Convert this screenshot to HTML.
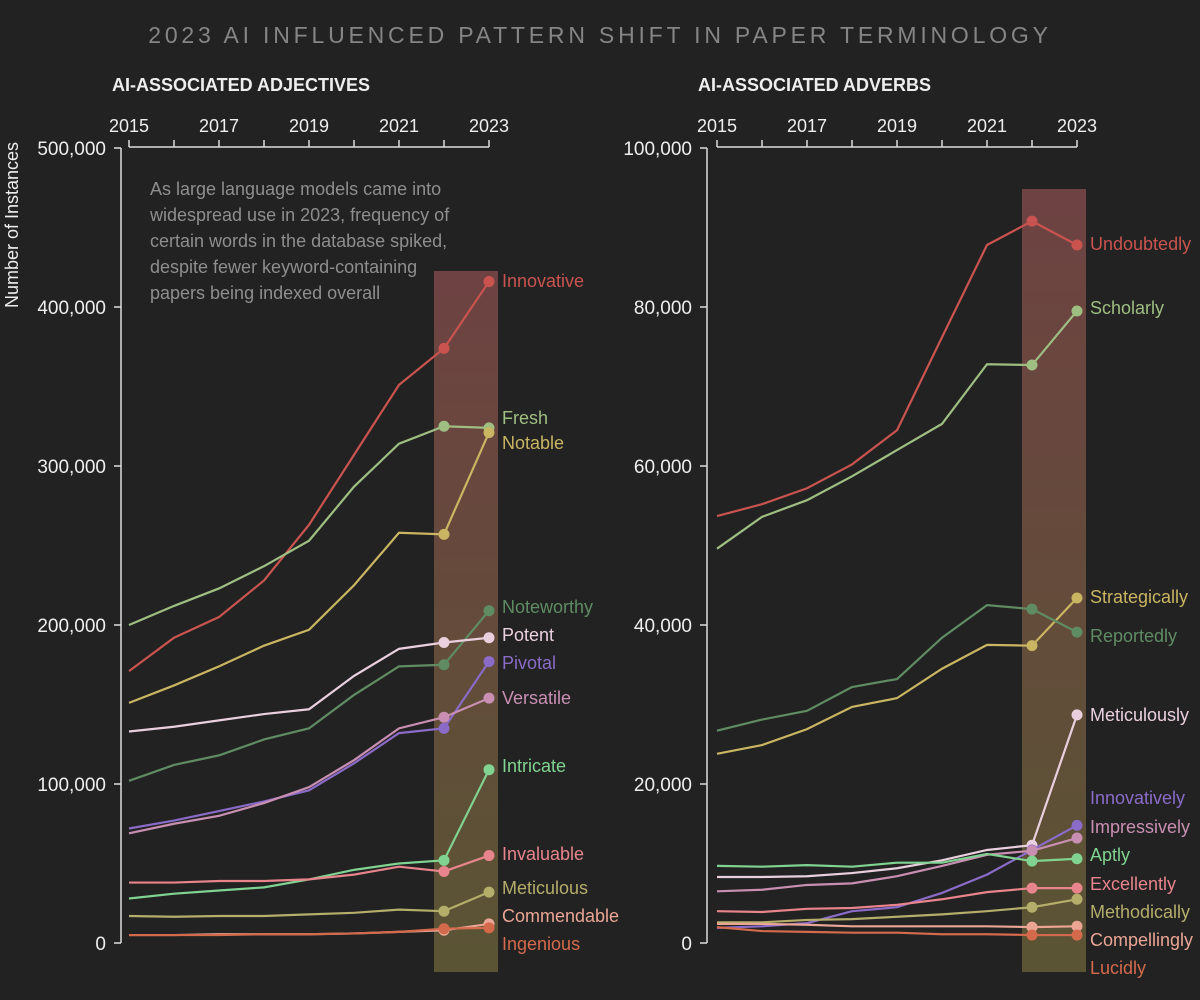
<!DOCTYPE html>
<html><head><meta charset="utf-8">
<style>
html,body{margin:0;padding:0;background:#222;}
svg{display:block;}
text{font-family:"Liberation Sans Narrow","Liberation Sans",sans-serif;}
</style></head>
<body>
<svg id="chart" width="1200" height="1000" viewBox="0 0 1200 1000">
<defs>
<linearGradient id="hl" x1="0" y1="0" x2="0" y2="1">
<stop offset="0" stop-color="#6e4242"/><stop offset="1" stop-color="#5a5434"/>
</linearGradient>
</defs>
<rect width="1200" height="1000" fill="#222"/>
<text x="600" y="43" text-anchor="middle" fill="#858585" font-size="23" letter-spacing="3.8" style="font-family:'Liberation Sans',sans-serif">2023 AI INFLUENCED PATTERN SHIFT IN PAPER TERMINOLOGY</text>
<g id="left"></g>
<g id="right"></g>
</svg>
<script>
const years = [2015,2016,2017,2018,2019,2020,2021,2022,2023];
const adjNames = ["Innovative","Fresh","Notable","Noteworthy","Potent","Pivotal","Versatile","Intricate","Invaluable","Meticulous","Commendable","Ingenious"];
const adjInnovative = [171,192,205,228,263,307,351,374,416];
const adjFresh = [200,212,223,237,253,287,314,325,324];
const adjNotable = [151,162,174,187,197,225,258,257,321];
const adjNoteworthy = [102,112,118,128,135,156,174,175,209];
const adjPotent = [133,136,140,144,147,168,185,189,192];
const adjPivotal = [72,77,83,89,96,113,132,135,177];
const adjVersatile = [69,75,80,88,98,115,135,142,154];
const adjIntricate = [28,31,33,35,40,46,50,52,109];
const adjInvaluable = [38,38,39,39,40,43,48,45,55];
const adjMeticulous = [17,16.5,17,17,18,19,21,20,32];
const adjCommendable = [5,5,5.5,5.5,5.5,6,7,8,12];
const adjIngenious = [5,5,5,5.5,5.5,6,7,9,9.5];
const advNames = ["Undoubtedly","Scholarly","Strategically","Reportedly","Meticulously","Innovatively","Impressively","Aptly","Excellently","Methodically","Compellingly","Lucidly"];
const advUndoubtedly = [53.7,55.2,57.2,60.2,64.5,76.2,87.8,90.8,87.8];
const advScholarly = [49.6,53.6,55.7,58.7,62.0,65.3,72.8,72.7,79.5];
const advStrategically = [23.8,24.9,26.9,29.7,30.8,34.5,37.5,37.4,43.4];
const advReportedly = [26.7,28.1,29.2,32.2,33.2,38.4,42.5,42.0,39.1];
const advMeticulously = [8.3,8.3,8.4,8.8,9.4,10.4,11.7,12.3,28.7];
const advInnovatively = [1.9,2.1,2.5,4.0,4.5,6.3,8.6,11.7,14.8];
const advImpressively = [6.5,6.7,7.3,7.5,8.4,9.7,11.1,11.6,13.2];
const advAptly = [9.7,9.6,9.8,9.6,10.1,10.1,11.2,10.3,10.6];
const advExcellently = [4.0,3.9,4.3,4.4,4.8,5.5,6.4,6.9,6.9];
const advMethodically = [2.6,2.6,2.9,3.0,3.3,3.6,4.0,4.5,5.5];
const advCompellingly = [2.4,2.4,2.3,2.1,2.1,2.1,2.1,2.0,2.1];
const advLucidly = [2.0,1.5,1.4,1.3,1.3,1.1,1.1,1.0,1.0];
const adjTicks = ["0","100,000","200,000","300,000","400,000","500,000"];
const advTicks = ["0","20,000","40,000","60,000","80,000","100,000"];
const yearLabels = ["2015","2017","2019","2021","2023"];

const adjSeries=[adjInnovative,adjFresh,adjNotable,adjNoteworthy,adjPotent,adjPivotal,adjVersatile,adjIntricate,adjInvaluable,adjMeticulous,adjCommendable,adjIngenious];
const advSeries=[advUndoubtedly,advScholarly,advStrategically,advReportedly,advMeticulously,advInnovatively,advImpressively,advAptly,advExcellently,advMethodically,advCompellingly,advLucidly];
const adjColors=["#c9544f","#9fbf82","#c9b562","#5f8c63","#ead0df","#8a6bc8","#c98fb3","#80d390","#e8848c","#b5ad6a","#eaa594","#d36a4c"];
const advColors=["#c9544f","#9fbf82","#c9b562","#5f8c63","#ead0df","#8a6bc8","#c98fb3","#80d390","#e8848c","#b5ad6a","#eaa594","#d36a4c"];
const adjLabelY=[281,418,443,607,635,663,698,766,854,888,916,944];
const advLabelY=[244,308,597,636,715,798,827,855,884,912,940,968];
const NS="http://www.w3.org/2000/svg";
function mk(parent,tag,attrs){const e=document.createElementNS(NS,tag);for(const k in attrs)e.setAttribute(k,attrs[k]);parent.appendChild(e);return e;}

function panel(g,opt){
  const x0=opt.x0, step=45, yb=943, yt=148;
  const xS=i=>x0+i*step;
  const yS=v=>yb-(v/opt.max)*(yb-yt);
  const hl=mk(g,"rect",{x:xS(7)-10,y:opt.hlTop,width:64,height:972-opt.hlTop,fill:"url(#hl)"});
  
  
  const st=mk(g,"text",{x:opt.sx,y:91,fill:"#eee","font-size":18,"font-weight":"bold"});
  st.textContent=opt.title;
  
  
  const ax=mk(g,"path",{d:`M${xS(0)} 147H${xS(8)}`,stroke:"#ddd","stroke-width":1.5,fill:"none"});
  
  
  years.forEach((yr,i)=>{
    const t=mk(g,"path",{d:`M${xS(i)} 140V147`,stroke:"#ddd","stroke-width":1.5});
    
    
  });
  yearLabels.forEach((lab,j)=>{
    const t=mk(g,"text",{x:xS(j*2),y:132,"text-anchor":"middle",fill:"#eee","font-size":18});
    t.textContent=lab;
    
    
  });
  const ya=mk(g,"path",{d:`M${opt.ax} ${yt}V${yb}`,stroke:"#ddd","stroke-width":1.5,fill:"none"});
  
  
  opt.ticks.forEach((lab,j)=>{
    const v=opt.max*j/(opt.ticks.length-1);
    const t=mk(g,"path",{d:`M${opt.ax-7} ${yS(v)}H${opt.ax}`,stroke:"#ddd","stroke-width":1.5});
    
    
    const tl=mk(g,"text",{x:opt.ax-15,y:yS(v)+7,"text-anchor":"end",fill:"#eee","font-size":19});
    tl.textContent=lab;
    
    
  });
  opt.series.forEach((s,k)=>{
    const c=opt.colors[k];
    const p=mk(g,"path",{d:s.map((v,i)=>(i?"L":"M")+xS(i)+" "+yS(v)).join(""),stroke:c,"stroke-width":2.2,fill:"none"});
    
    
    [7,8].forEach(i=>{
      const d=mk(g,"circle",{cx:xS(i),cy:yS(s[i]),r:5.5,fill:c});
      
      
    });
    const l=mk(g,"text",{x:opt.lx,y:opt.labelY[k]+6,fill:c,"font-size":18});
    l.textContent=opt.names[k];
    
    
  });
}
panel(document.getElementById('left'),{x0:129,max:500,ax:121,series:adjSeries,colors:adjColors,names:adjNames,labelY:adjLabelY,lx:502,ticks:adjTicks,title:"AI-ASSOCIATED ADJECTIVES",sx:112,hlTop:271});
panel(document.getElementById('right'),{x0:717,max:100,ax:707,series:advSeries,colors:advColors,names:advNames,labelY:advLabelY,lx:1090,ticks:advTicks,title:"AI-ASSOCIATED ADVERBS",sx:698,hlTop:189});

const svg=document.getElementById('chart');
const yt=mk(svg,"text",{x:0,y:0,transform:"translate(18,225) rotate(-90)","text-anchor":"middle",fill:"#eee","font-size":18});
yt.textContent="Number of Instances";


const ann=["As large language models came into","widespread use in 2023, frequency of","certain words in the database spiked,","despite fewer keyword-containing","papers being indexed overall"];
ann.forEach((line,i)=>{
  const t=mk(svg,"text",{x:150,y:195+i*26,fill:"#8e8e8e","font-size":18,style:"font-family:'Liberation Sans',sans-serif"});
  t.textContent=line;
  
  
});
</script>
</body></html>
